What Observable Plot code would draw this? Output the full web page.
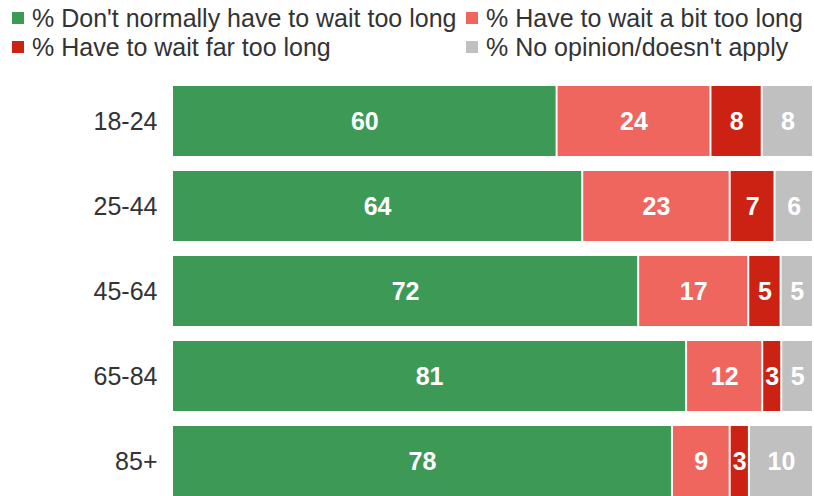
<!DOCTYPE html>
<html><head><meta charset="utf-8">
<script src="https://cdn.jsdelivr.net/npm/d3@7"></script>
<script src="https://cdn.jsdelivr.net/npm/@observablehq/plot@0.6"></script>
<style>
body{margin:0;background:#fff;font-family:"Liberation Sans",Arial,sans-serif;}
#legend{position:relative;height:70px;font-size:25px;color:#333;}
.item{position:absolute;display:flex;align-items:center;white-space:nowrap;line-height:29px;}
.sw{width:12px;height:12px;margin-right:8px;}
</style></head>
<body>
<div id="legend"></div>
<div id="chart"></div>
<script>
const ages = ["18-24","25-44","45-64","65-84","85+"];
const series = ["% Don't normally have to wait too long","% Have to wait a bit too long","% Have to wait far too long","% No opinion/doesn't apply"];
const colors = ["#3d9956","#ef665e","#cc2214","#c0c0c0"];
const dontWait = [60,64,72,81,78];
const bitLong = [24,23,17,12,9];
const farLong = [8,7,5,3,3];
const noOpinion = [8,6,5,5,10];
const seriesValues = [dontWait, bitLong, farLong, noOpinion];

const data = [];
ages.forEach((a,i)=>series.forEach((s,j)=>data.push({age:a, series:s, value:seriesValues[j][i]})));

// legend
const pos = [[12,18],[466,18],[12,47],[466,47]];
const leg = document.getElementById("legend");
series.forEach((s,j)=>{
  const d=document.createElement("div");d.className="item";
  d.style.left=pos[j][0]+"px";d.style.top=(pos[j][1]-14.5)+"px";
  d.innerHTML=`<span class="sw" style="background:${colors[j]}"></span><span>${s}</span>`;
  leg.appendChild(d);
});

const chart = Plot.plot({
  width:814, height:426,
  marginLeft:172, marginRight:1, marginTop:15, marginBottom:0,
  style:{fontFamily:"Liberation Sans, Arial, sans-serif"},
  x:{axis:null},
  y:{domain:ages, paddingInner:0.18, paddingOuter:0, label:null},
  color:{domain:series, range:colors},
  marks:[
    Plot.barX(data, Plot.stackX({x:"value", y:"age", z:"series", fill:"series", order:series, offset:"normalize", insetLeft:1, insetRight:1})),
    Plot.textX(data, Plot.stackX({x:"value", y:"age", z:"series", order:series, offset:"normalize", text:"value", fill:"white", fontWeight:"bold", fontSize:25})),
    Plot.axisY({fontSize:25, tickSize:0, tickPadding:15, label:null, color:"#333"})
  ]
});
document.getElementById("chart").appendChild(chart);
</script>
</body></html>
